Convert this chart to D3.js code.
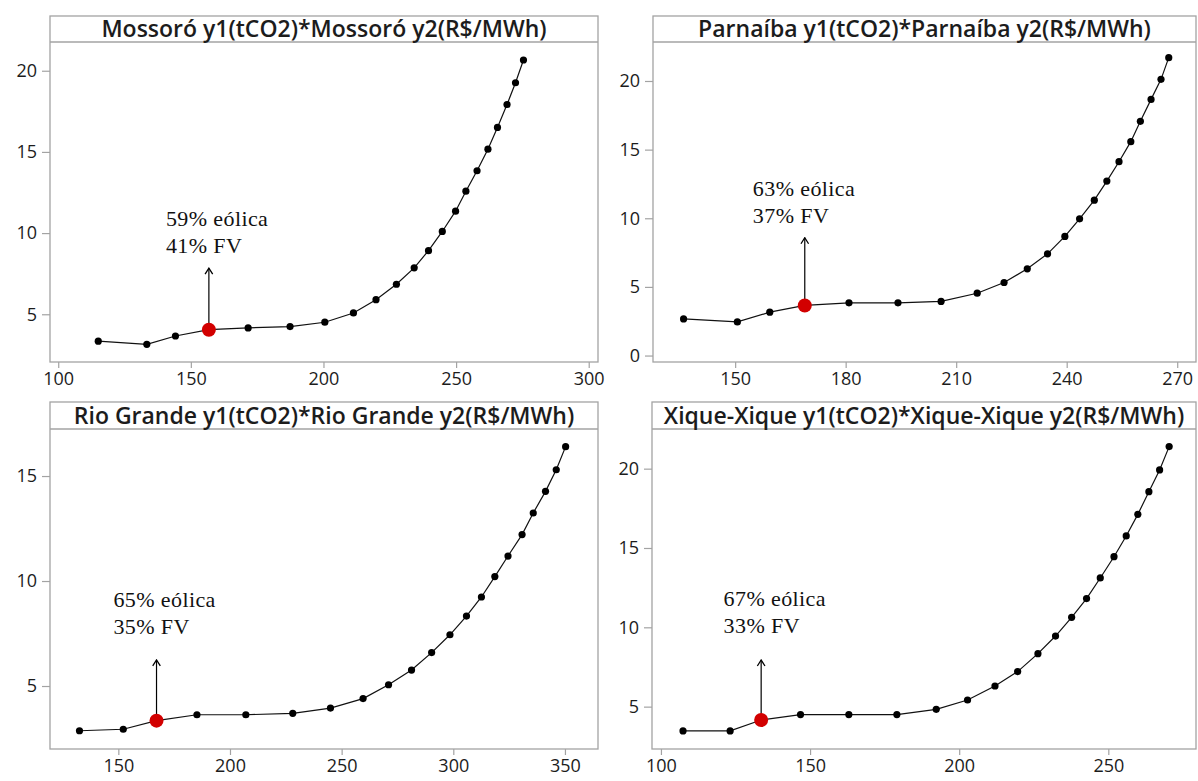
<!DOCTYPE html>
<html>
<head>
<meta charset="utf-8">
<script src="https://cdn.jsdelivr.net/npm/d3@7/dist/d3.min.js"></script>
<style>
  body { margin: 0; background: #fff; }
</style>
</head>
<body>
<div id="chart"></div>
<script>
// y1 (tCO2) against y2 (R$/MWh), one curve per site

const mossoroX = [115.1, 133.4, 144.2, 156.8, 171.6, 187.4, 200.5, 211.3, 219.8, 227.5, 234.2, 239.6, 244.8, 249.8, 253.7, 257.9, 262.0, 265.6, 269.2, 272.4, 275.4];
const mossoroY = [3.34, 3.15, 3.66, 4.05, 4.16, 4.24, 4.51, 5.08, 5.90, 6.85, 7.86, 8.92, 10.10, 11.35, 12.58, 13.84, 15.17, 16.51, 17.92, 19.26, 20.66];

const parnaibaX = [136.0, 150.6, 159.4, 168.9, 180.9, 194.2, 205.9, 215.7, 223.0, 229.3, 234.8, 239.5, 243.5, 247.5, 250.9, 254.2, 257.4, 260.0, 262.9, 265.6, 267.7];
const parnaibaY = [2.67, 2.45, 3.16, 3.65, 3.84, 3.84, 3.94, 4.54, 5.32, 6.32, 7.41, 8.68, 9.96, 11.32, 12.71, 14.12, 15.58, 17.06, 18.66, 20.12, 21.70];

const rioGrandeX = [132.6, 152.2, 167.1, 185.2, 207.1, 228.1, 245.0, 259.6, 271.0, 281.3, 290.3, 298.5, 305.9, 312.6, 318.6, 324.5, 330.8, 335.8, 341.3, 346.1, 350.3];
const rioGrandeY = [2.87, 2.94, 3.35, 3.63, 3.63, 3.70, 3.95, 4.40, 5.06, 5.76, 6.59, 7.44, 8.33, 9.24, 10.21, 11.19, 12.21, 13.24, 14.27, 15.30, 16.40];

const xiqueX = [107.4, 123.2, 133.6, 146.8, 163.0, 179.1, 192.3, 202.8, 212.0, 219.6, 226.4, 232.3, 237.7, 242.7, 247.3, 251.9, 256.0, 259.9, 263.6, 267.2, 270.4];
const xiqueY = [3.47, 3.47, 4.16, 4.50, 4.50, 4.50, 4.83, 5.42, 6.30, 7.21, 8.34, 9.45, 10.63, 11.81, 13.11, 14.45, 15.76, 17.12, 18.55, 19.92, 21.39];

const titles = [
  'Mossoró y1(tCO2)*Mossoró y2(R$/MWh)',
  'Parnaíba y1(tCO2)*Parnaíba y2(R$/MWh)',
  'Rio Grande y1(tCO2)*Rio Grande y2(R$/MWh)',
  'Xique-Xique y1(tCO2)*Xique-Xique y2(R$/MWh)'
];
const xTicks = [[100, 150, 200, 250, 300], [150, 180, 210, 240, 270], [150, 200, 250, 300, 350], [100, 150, 200, 250]];
const yTicks = [[5, 10, 15, 20], [0, 5, 10, 15, 20], [5, 10, 15], [5, 10, 15, 20]];
const xDomains = [[96.9, 303.5], [127.7, 275.1], [119.4, 364.8], [97.0, 279.4]];
const yDomains = [[2.06, 21.77], [-0.47, 22.84], [2.0, 17.24], [2.33, 22.5]];

// highlighted mix and its label
const chosenIndex = [3, 3, 2, 2];
const mixLabels = [['59% eólica', '41% FV'], ['63% eólica', '37% FV'], ['65% eólica', '35% FV'], ['67% eólica', '33% FV']];
const arrowTop = [7.84, 8.58, 6.24, 7.94];
const labelX = [140.6, 154.8, 147.8, 121.0];
const labelY = [[10.92, 9.25], [12.17, 10.23], [9.13, 7.82], [11.83, 10.14]];

const series = [
  { x: mossoroX, y: mossoroY },
  { x: parnaibaX, y: parnaibaY },
  { x: rioGrandeX, y: rioGrandeY },
  { x: xiqueX, y: xiqueY }
];

// frame boxes of the four panels (pixels)
const boxes = [
  { left: 50, right: 598, top: 16, head: 42, bottom: 362 },
  { left: 653, right: 1196, top: 16, head: 42, bottom: 362 },
  { left: 50, right: 598, top: 402, head: 429, bottom: 749 },
  { left: 652, right: 1196, top: 402, head: 429, bottom: 749 }
];

const frameColor = '#a3a3a3';
const textColor = '#1c1c1c';

const svg = d3.select('#chart').append('svg')
  .attr('width', 1198)
  .attr('height', 781)
  .style('font-family', '"Open Sans", sans-serif');

// open chevron head, drawn along +x so orient=auto points it up the line
svg.append('defs').append('marker')
  .attr('id', 'open-arrow')
  .attr('viewBox', '0 0 10 10')
  .attr('refX', 9).attr('refY', 5)
  .attr('markerWidth', 10).attr('markerHeight', 10)
  .attr('markerUnits', 'userSpaceOnUse')
  .attr('orient', 'auto')
  .append('path')
  .attr('d', 'M3,1.2 L9,5 L3,8.8')
  .attr('fill', 'none')
  .attr('stroke', '#000')
  .attr('stroke-width', 1.3);

boxes.forEach((b, i) => {
  const g = svg.append('g');
  const data = series[i].x.map((x, k) => ({ x, y: series[i].y[k] }));

  const x = d3.scaleLinear().domain(xDomains[i]).range([b.left, b.right]);
  const y = d3.scaleLinear().domain(yDomains[i]).range([b.bottom, b.head]);

  // frame + title strip
  g.append('rect')
    .attr('x', b.left).attr('y', b.top)
    .attr('width', b.right - b.left).attr('height', b.bottom - b.top)
    .attr('fill', 'none').attr('stroke', frameColor).attr('stroke-width', 1.3);
  g.append('line')
    .attr('x1', b.left).attr('x2', b.right)
    .attr('y1', b.head).attr('y2', b.head)
    .attr('stroke', frameColor).attr('stroke-width', 1.3);
  g.append('text')
    .attr('x', (b.left + b.right) / 2)
    .attr('y', (b.top + b.head) / 2)
    .attr('dy', '0.36em')
    .attr('text-anchor', 'middle')
    .attr('font-size', 23)
    .attr('font-weight', 600)
    .attr('fill', textColor)
    .text(titles[i]);

  // axes
  const axisX = g.append('g')
    .attr('transform', `translate(0,${b.bottom})`)
    .call(d3.axisBottom(x).tickValues(xTicks[i]).tickSize(6).tickPadding(4).tickSizeOuter(0));
  const axisY = g.append('g')
    .attr('transform', `translate(${b.left},0)`)
    .call(d3.axisLeft(y).tickValues(yTicks[i]).tickSize(8).tickPadding(5).tickSizeOuter(0));

  [axisX, axisY].forEach(a => {
    a.select('.domain').remove();
    a.selectAll('.tick line').attr('stroke', frameColor).attr('stroke-width', 1.2);
    a.selectAll('.tick text')
      .attr('fill', textColor)
      .attr('font-size', 18)
      .attr('font-family', '"Open Sans", sans-serif');
  });

  // curve and points
  const line = d3.line()
    .x(d => x(d.x))
    .y(d => y(d.y));

  g.append('path')
    .datum(data)
    .attr('d', line)
    .attr('fill', 'none')
    .attr('stroke', '#111')
    .attr('stroke-width', 1.2);

  g.selectAll('.pt')
    .data(data)
    .enter().append('circle')
    .attr('class', 'pt')
    .attr('cx', d => x(d.x))
    .attr('cy', d => y(d.y))
    .attr('r', 3.6)
    .attr('fill', '#000');

  const best = data[chosenIndex[i]];

  g.append('line')
    .attr('x1', x(best.x)).attr('x2', x(best.x))
    .attr('y1', y(best.y)).attr('y2', y(arrowTop[i]))
    .attr('stroke', '#000')
    .attr('stroke-width', 1.2)
    .attr('marker-end', 'url(#open-arrow)');

  g.append('circle')
    .attr('cx', x(best.x))
    .attr('cy', y(best.y))
    .attr('r', 7)
    .attr('fill', '#d20000');

  mixLabels[i].forEach((t, k) => {
    g.append('text')
      .attr('x', x(labelX[i]))
      .attr('y', y(labelY[i][k]))
      .attr('dy', '0.35em')
      .attr('font-family', '"Liberation Serif", "Times New Roman", serif')
      .attr('font-size', 22)
      .attr('letter-spacing', 0.4)
      .attr('fill', '#111')
      .text(t);
  });
});
</script>
</body>
</html>
